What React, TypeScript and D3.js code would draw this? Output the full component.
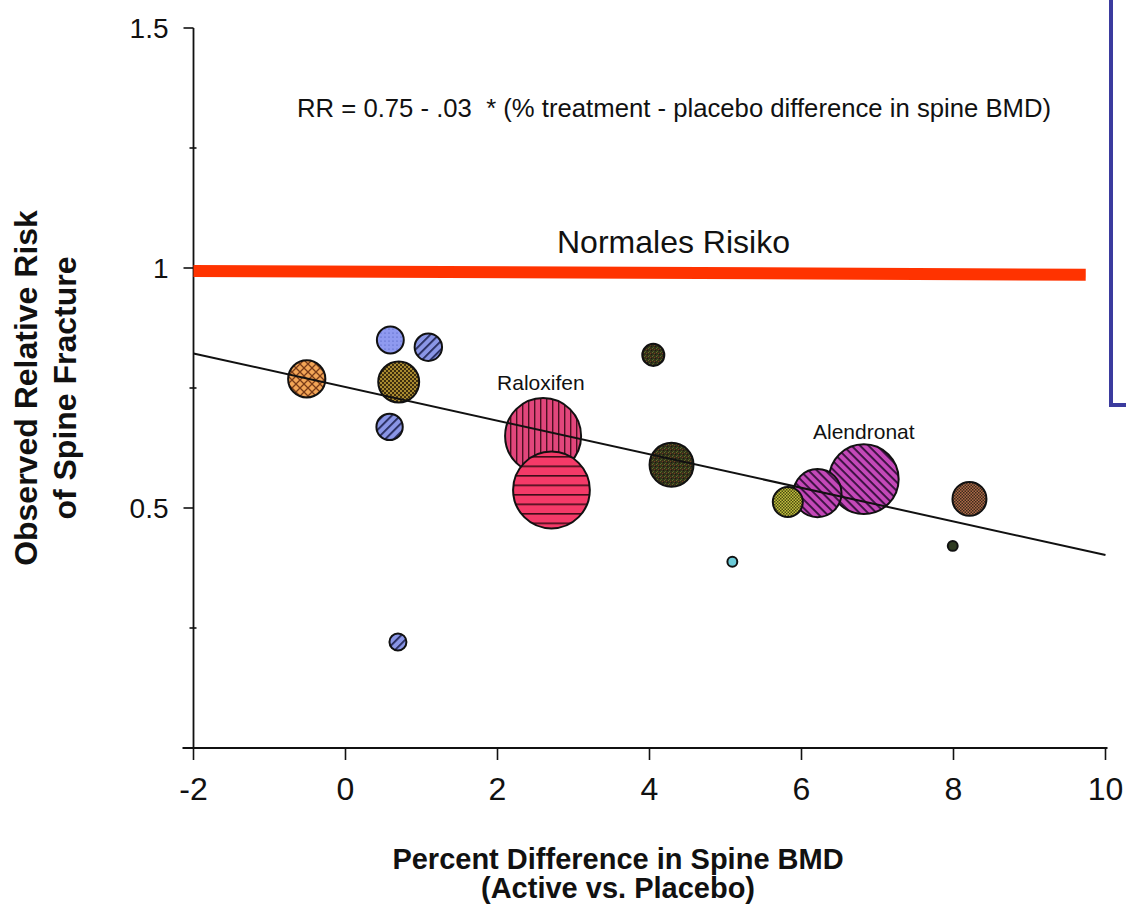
import React from "react";
import * as d3 from "d3";

// Trial results: treatment-vs-placebo spine BMD gain (%) and observed relative risk
const studyBMD = [-0.51, 0.59, 1.09, 0.7, 0.58, 0.69, 2.6, 2.71, 4.05, 4.29, 6.82, 6.21, 5.82, 8.21, 7.99, 5.09];
const studyRR = [0.769, 0.85, 0.835, 0.7625, 0.669, 0.221, 0.65, 0.5375, 0.819, 0.59, 0.56, 0.531, 0.5125, 0.519, 0.421, 0.388];
// Relative study weight (bubble area)
const studyWeight = [24, 12.5, 13, 29, 12, 5, 100, 102, 8.4, 33.5, 84, 40, 15.6, 20, 1.7, 1.7];
// Hatch style of each bubble
const studyFill = [
  "grid-orange", "dots-blue", "stripe-blue", "check-olive", "stripe-blue", "stripe-blue",
  "vstripe-pink", "hstripe-red", "speckle-dark", "speckle-dark", "stripe-magenta", "stripe-magenta",
  "check-yellow", "check-brown", "plain-dark", "plain-cyan",
];

// Drug labels
const drugLabels = ["Raloxifen", "Alendronat"];
const drugLabelX = [2.57, 6.82];
const drugLabelRR = [0.746, 0.644];

// Fitted regression: endpoints of the line
const fitX = [-2, 10];
const fitRR = [0.822, 0.402];

// Reference line for normal risk
const normalX = [-2, 9.74];
const normalRR = [0.994, 0.986];

const xTicks = [-2, 0, 2, 4, 6, 8, 10];
const xTickLabels = ["-2", "0", "2", "4", "6", "8", "10"];
const yMajorTicks = [0.5, 1, 1.5];
const yMajorLabels = ["0.5", "1", "1.5"];
const yMinorTicks = [0.25, 0.75, 1.25];

const equationText = "RR = 0.75 - .03  * (% treatment - placebo difference in spine BMD)";
const normalText = "Normales Risiko";
const yTitle = ["Observed Relative Risk", "of Spine Fracture"];
const xTitle = ["Percent Difference in Spine BMD", "(Active vs. Placebo)"];

const W = 1126;
const H = 912;
const FONT = "'Liberation Sans', Arial, Helvetica, sans-serif";

const x = d3.scaleLinear().domain([-2, 10]).range([193.5, 1105.5]);
const y = d3.scaleLinear().domain([0, 1.5]).range([748, 28]);
const r = d3.scaleSqrt().domain([0, 100]).range([0, 38]);

function Patterns() {
  return (
    <defs>
      <pattern id="grid-orange" patternUnits="userSpaceOnUse" width="8" height="8">
        <rect width="8" height="8" fill="#f2a556" />
        <path d="M0,0 L8,8 M8,0 L0,8" stroke="#7a3c18" strokeWidth="1.3" />
      </pattern>
      <pattern id="dots-blue" patternUnits="userSpaceOnUse" width="4" height="4">
        <rect width="4" height="4" fill="#8f9af0" />
        <circle cx="1" cy="1" r="0.6" fill="#4050b0" />
      </pattern>
      <pattern id="stripe-blue" patternUnits="userSpaceOnUse" width="6" height="6" patternTransform="rotate(-45)">
        <rect width="6" height="6" fill="#8a96e6" />
        <rect width="6" height="1.8" fill="#24285a" />
      </pattern>
      <pattern id="check-olive" patternUnits="userSpaceOnUse" width="4" height="4">
        <rect width="4" height="4" fill="#a88a30" />
        <rect width="2" height="2" fill="#3e2e0e" />
        <rect x="2" y="2" width="2" height="2" fill="#3e2e0e" />
      </pattern>
      <pattern id="vstripe-pink" patternUnits="userSpaceOnUse" width="6" height="6">
        <rect width="6" height="6" fill="#e2467c" />
        <rect width="1.4" height="6" fill="#4a1020" />
      </pattern>
      <pattern id="hstripe-red" patternUnits="userSpaceOnUse" width="9.5" height="9.5">
        <rect width="9.5" height="9.5" fill="#f43a68" />
        <rect width="9.5" height="1.6" fill="#3e0c18" />
      </pattern>
      <pattern id="speckle-dark" patternUnits="userSpaceOnUse" width="4" height="4">
        <rect width="4" height="4" fill="#34321a" />
        <rect x="0" y="0" width="1" height="1" fill="#6a6a2a" />
        <rect x="2" y="1" width="1" height="1" fill="#7a3a20" />
        <rect x="1" y="3" width="1" height="1" fill="#4a6a28" />
        <rect x="3" y="2" width="1" height="1" fill="#1a1a10" />
      </pattern>
      <pattern id="stripe-magenta" patternUnits="userSpaceOnUse" width="6" height="6" patternTransform="rotate(45)">
        <rect width="6" height="6" fill="#c448b8" />
        <rect width="6" height="1.9" fill="#38103e" />
      </pattern>
      <pattern id="check-yellow" patternUnits="userSpaceOnUse" width="3" height="3">
        <rect width="3" height="3" fill="#c2c040" />
        <rect width="1.5" height="1.5" fill="#4a4a10" />
        <rect x="1.5" y="1.5" width="1.5" height="1.5" fill="#4a4a10" />
      </pattern>
      <pattern id="check-brown" patternUnits="userSpaceOnUse" width="3" height="3">
        <rect width="3" height="3" fill="#b06a48" />
        <rect width="1.5" height="1.5" fill="#3a2a1c" />
        <rect x="1.5" y="1.5" width="1.5" height="1.5" fill="#3a2a1c" />
      </pattern>
      <pattern id="plain-dark" patternUnits="userSpaceOnUse" width="4" height="4">
        <rect width="4" height="4" fill="#2e3a20" />
      </pattern>
      <pattern id="plain-cyan" patternUnits="userSpaceOnUse" width="4" height="4">
        <rect width="4" height="4" fill="#6ccbd8" />
      </pattern>
    </defs>
  );
}

export default function App() {
  const fitLine = d3
    .line<number>()
    .x((d) => x(fitX[d]))
    .y((d) => y(fitRR[d]))(fitX.map((_, i) => i));
  const normalLine = d3
    .line<number>()
    .x((d) => x(normalX[d]))
    .y((d) => y(normalRR[d]))(normalX.map((_, i) => i));

  return (
    <svg
      width={W}
      height={H}
      viewBox={`0 0 ${W} ${H}`}
      style={{ position: "absolute", left: 0, top: 0, background: "#fff", fontFamily: FONT }}
    >
      <Patterns />
      <rect width={W} height={H} fill="#fff" />

      {/* frame of the adjoining text box */}
      <path d="M1111,-5 V405 H1130" fill="none" stroke="#3b3b9e" strokeWidth="4" />

      {/* y axis */}
      <line x1={x(-2)} x2={x(-2)} y1={y(1.5)} y2={y(0)} stroke="#111" strokeWidth="1.8" />
      {yMajorTicks.map((t, i) => (
        <g key={"ym" + t}>
          <line x1={x(-2) - 10} x2={x(-2)} y1={y(t)} y2={y(t)} stroke="#111" strokeWidth="1.6" />
          <text
            x={x(-2) - 25}
            y={y(t)}
            dy="0.36em"
            textAnchor="end"
            fontSize="28"
            fill="#111"
          >
            {yMajorLabels[i]}
          </text>
        </g>
      ))}
      {yMinorTicks.map((t) => (
        <line key={"yn" + t} x1={x(-2) - 4} x2={x(-2) + 3} y1={y(t)} y2={y(t)} stroke="#111" strokeWidth="1.6" />
      ))}

      {/* x axis */}
      <line x1={x(-2) - 11} x2={x(10) + 2} y1={y(0)} y2={y(0)} stroke="#111" strokeWidth="1.8" />
      {xTicks.map((t, i) => (
        <g key={"x" + t}>
          <line x1={x(t)} x2={x(t)} y1={y(0)} y2={y(0) + 12} stroke="#111" strokeWidth="1.6" />
          <text x={x(t)} y={800} textAnchor="middle" fontSize="32" fill="#111">
            {xTickLabels[i]}
          </text>
        </g>
      ))}

      {/* axis titles */}
      {yTitle.map((t, i) => (
        <text
          key={t}
          transform={`translate(${37 + i * 39},388) rotate(-90)`}
          textAnchor="middle"
          fontSize="32"
          fontWeight="bold"
          fill="#111"
        >
          {t}
        </text>
      ))}
      {xTitle.map((t, i) => (
        <text
          key={t}
          x={618}
          y={869 + i * 29}
          textAnchor="middle"
          fontSize="29"
          fontWeight="bold"
          fill="#111"
        >
          {t}
        </text>
      ))}

      {/* regression equation */}
      <text x={297} y={117} fontSize="25.7" fill="#111" style={{ whiteSpace: "pre" }}>
        {equationText}
      </text>

      {/* normal risk reference */}
      <path d={normalLine || ""} fill="none" stroke="#ff3300" strokeWidth="12" />
      <text x={557} y={253} fontSize="32" fill="#111">
        {normalText}
      </text>

      {/* study bubbles */}
      {studyBMD.map((b, i) => (
        <circle
          key={"s" + i}
          cx={x(b)}
          cy={y(studyRR[i])}
          r={r(studyWeight[i])}
          fill={`url(#${studyFill[i]})`}
          stroke="#111"
          strokeWidth="2"
        />
      ))}

      {/* regression line */}
      <path d={fitLine || ""} fill="none" stroke="#111" strokeWidth="2" />

      {drugLabels.map((t, i) => (
        <text
          key={t}
          x={x(drugLabelX[i])}
          y={y(drugLabelRR[i])}
          textAnchor="middle"
          fontSize="21"
          fill="#111"
        >
          {t}
        </text>
      ))}
    </svg>
  );
}
